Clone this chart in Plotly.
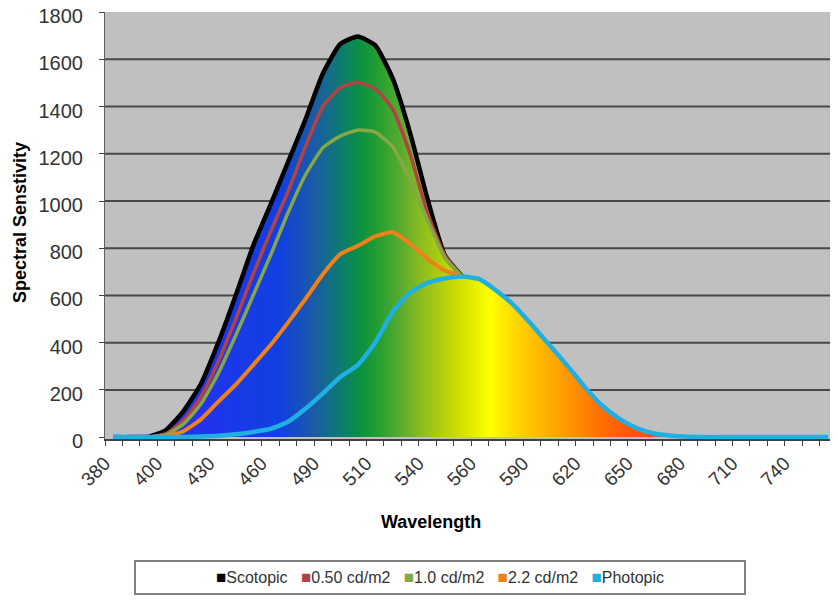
import plotly.graph_objects as go

# category positions 0..41, every third one carries a wavelength label
n_cat = 42
cat_idx = list(range(n_cat))
tick_pos = list(range(0, n_cat, 3))
tick_text = ["380", "400", "430", "460", "490", "510", "540",
             "560", "590", "620", "650", "680", "710", "740"]
y_ticks = list(range(0, 1801, 200))

pad = [None] * 21
scotopic = [0, 0, 2, 30, 110, 225, 400, 600, 810, 985, 1165, 1345, 1540, 1665,
            1697, 1660, 1520, 1290, 1010, 770, 680] + pad
cd050 = [0, 0, 0, 15, 70, 170, 320, 500, 690, 870, 1040, 1230, 1400, 1480,
         1503, 1475, 1390, 1200, 950, 770, 680] + pad
cd10 = [0, 0, 0, 10, 55, 140, 270, 430, 600, 770, 950, 1110, 1225, 1275,
        1300, 1292, 1230, 1090, 920, 760, 680] + pad
cd22 = [0, 0, 0, 3, 25, 75, 150, 222, 305, 390, 485, 585, 690, 775,
        810, 850, 868, 820, 755, 705, 680] + pad
photopic = [0, 0, 0, 0, 1, 3, 6, 12, 22, 35, 65, 120, 185, 255,
            305, 400, 530, 612, 653, 672, 680, 668, 618, 555, 475, 390, 305, 215,
            135, 78, 38, 15, 6, 2, 0, 0, 0, 0, 0, 0, 0, 0]

# spectrum fill under the outer envelope of the curves
envelope = [max(s if s is not None else 0, p) for s, p in zip(scotopic, photopic)]

spectrum = [
    [0.00, "#3a24d6"], [0.13, "#2233f0"], [0.239, "#1040e0"], [0.284, "#1a5aa8"],
    [0.321, "#0e7a72"], [0.348, "#0a9040"], [0.376, "#28a030"], [0.403, "#58aa30"],
    [0.430, "#88bc20"], [0.458, "#b0cc10"], [0.485, "#d0e000"], [0.526, "#ffff00"],
    [0.567, "#ffd000"], [0.622, "#ffa000"], [0.676, "#ff7000"], [0.731, "#ff5010"],
    [0.82, "#ff3010"], [1.00, "#e02020"],
]

series = [
    ("Scotopic", scotopic, "#000000", 4.5),
    ("0.50 cd/m2", cd050, "#b04444", 3.5),
    ("1.0 cd/m2", cd10, "#84a843", 3.5),
    ("2.2 cd/m2", cd22, "#f0801a", 4),
    ("Photopic", photopic, "#1eb0e2", 4.5),
]

FONT = "Liberation Sans, Arial, sans-serif"

fig = go.Figure()

# horizontal grid lines (none on the top edge, as in the original)
for v in y_ticks[1:-1]:
    fig.add_hline(y=v, line_color="#484848", line_width=2, layer="below")

fig.add_trace(go.Scatter(
    x=cat_idx, y=envelope, mode="lines",
    line=dict(width=0, shape="spline", smoothing=0.5),
    fill="tozeroy",
    fillgradient=dict(type="horizontal", colorscale=spectrum, start=-0.5, stop=41.5),
    showlegend=False, hoverinfo="skip",
))

for name, vals, color, w in series:
    fig.add_trace(go.Scatter(
        x=cat_idx, y=vals, mode="lines", name=name,
        line=dict(color=color, width=w, shape="spline", smoothing=0.5),
        showlegend=False,
    ))

# Excel-style legend: coloured square right before each name, boxed
legend_txt = "&nbsp;&nbsp;&nbsp;".join(
    f"<span style='color:{c};font-size:17px'>■</span>{n}" for n, _, c, _ in series
)
fig.add_annotation(
    text=legend_txt, xref="paper", yref="paper",
    x=0.458, y=-0.325, xanchor="center", yanchor="middle", showarrow=False,
    font=dict(size=16, color="#333333", family=FONT),
    bordercolor="#808080", borderwidth=2, borderpad=6, bgcolor="white",
    width=596, align="center",
)

fig.add_annotation(
    text="<b>Wavelength</b>", xref="paper", yref="paper",
    x=0.445, y=-0.223, showarrow=False, font=dict(size=18, color="#000", family=FONT),
)
fig.add_annotation(
    text="<b>Spectral Senstivity</b>", xref="paper", yref="paper",
    x=-0.1325, xanchor="left", y=0.506, textangle=-90, showarrow=False,
    font=dict(size=18, color="#000", family=FONT),
)

# page body has an 8px margin, so the figure is 8px smaller than the window
fig.update_layout(
    width=830, height=600,
    margin=dict(l=97, r=1, t=4, b=169, autoexpand=False),
    paper_bgcolor="white",
    plot_bgcolor="#c0c0c0",
    font=dict(family=FONT, size=18, color="#333333"),
    showlegend=False,
)

fig.update_xaxes(
    range=[-0.5, 41.5], automargin=False,
    tickmode="array", tickvals=tick_pos, ticktext=tick_text,
    tickangle=-45, ticks="", ticklabelstandoff=4, ticklabelshift=-9,
    tickfont=dict(size=19, color="#333333"),
    showgrid=False, zeroline=False,
    showline=True, linecolor="#404040", linewidth=1.5,
    minor=dict(tickmode="linear", tick0=-0.5, dtick=1, ticks="outside",
               ticklen=5, tickcolor="#404040", tickwidth=1, showgrid=False),
)
fig.update_yaxes(
    range=[-8, 1800.5], automargin=False, tickmode="array", tickvals=y_ticks,
    ticks="outside", ticklen=5, tickcolor="#404040",
    ticklabelstandoff=12, ticklabelshift=4, ticklabeloverflow="allow",
    tickfont=dict(size=20, color="#333333"),
    showgrid=False, zeroline=False,
    showline=True, linecolor="#606060", linewidth=1,
)

fig.write_html("out.html")
